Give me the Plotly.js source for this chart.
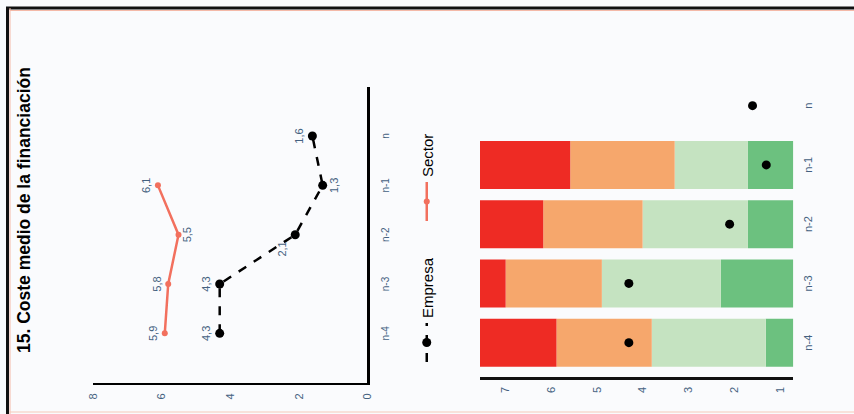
<!DOCTYPE html>
<html><head><meta charset="utf-8">
<script src="https://cdn.plot.ly/plotly-3.0.1.min.js"></script>
<style>
html,body{margin:0;padding:0;width:854px;height:414px;overflow:hidden;background:#fafbfd;}
#wrap{position:absolute;left:0;top:0;width:414px;height:854px;transform-origin:0 0;transform:translate(0px,414px) rotate(-90deg);}
</style></head><body><div id="wrap"></div>
<script>
// ---- data ----
const categories = ['n-4','n-3','n-2','n-1','n'];
const empresa = [4.3, 4.3, 2.1, 1.3, 1.6];
const sector = [5.9, 5.8, 5.5, 6.1, null];
const empresaLabels = ['4,3','4,3','2,1','1,3','1,6'];
const sectorLabels = ['5,9','5,8','5,5','6,1',''];
const lineTicks = [0, 2, 4, 6, 8];
// stacked position bars (sector distribution, scale 1-7)
const barCats = ['n-4','n-3','n-2','n-1'];
const scaleMin = 0.71, scaleMax = 7.55;
const q1 = [1.31, 2.29, 1.70, 1.70];   // dark green / light green limit
const q2 = [3.80, 4.89, 4.00, 3.30];   // light green / orange limit
const q3 = [5.88, 6.99, 6.17, 5.58];   // orange / red limit
const barTicks = [1, 2, 3, 4, 5, 6, 7];

// ---- layout helpers (unrotated frame 414 x 854) ----
const W = 414, H = 854;
const px = u => u / W;
const py = v => 1 - v / H;
const tickColor = '#44617f';
const FONT = 'Liberation Sans, Arial, sans-serif';

const sub = (a, b) => a.map((x, i) => x - b[i]);
const arr = (v) => barCats.map(() => v);

const traces = [
  {type:'scatter', mode:'lines+markers+text', name:'Empresa', x:categories, y:empresa,
   text:empresaLabels, textposition:['top center','top center','top left','bottom center','top center'],
   textfont:{size:11, color:tickColor, family:FONT},
   line:{color:'#000', width:2.5, dash:'dash'}, marker:{color:'#000', size:9},
   xaxis:'x', yaxis:'y', cliponaxis:false},
  {type:'scatter', mode:'lines+markers+text', name:'Sector', x:categories, y:sector,
   text:sectorLabels, textposition:['top center','top center','bottom center','top center','top center'],
   textfont:{size:11, color:tickColor, family:FONT},
   line:{color:'#f2705e', width:2.5}, marker:{color:'#f2705e', size:6},
   xaxis:'x', yaxis:'y', cliponaxis:false},
  {type:'bar', x:barCats, base:arr(scaleMin), y:sub(q1, arr(scaleMin)), marker:{color:'#6cc17f'}, width:0.81, showlegend:false, xaxis:'x2', yaxis:'y2'},
  {type:'bar', x:barCats, base:q1, y:sub(q2, q1), marker:{color:'#c5e3c1'}, width:0.81, showlegend:false, xaxis:'x2', yaxis:'y2'},
  {type:'bar', x:barCats, base:q2, y:sub(q3, q2), marker:{color:'#f6a76c'}, width:0.81, showlegend:false, xaxis:'x2', yaxis:'y2'},
  {type:'bar', x:barCats, base:q3, y:sub(arr(scaleMax), q3), marker:{color:'#ee2b24'}, width:0.81, showlegend:false, xaxis:'x2', yaxis:'y2'},
  {type:'scatter', mode:'markers', x:categories, y:empresa, marker:{color:'#000', size:9}, showlegend:false, xaxis:'x2', yaxis:'y2', cliponaxis:false}
];

const frameShapes = [
  {type:'line', xref:'paper', yref:'paper', x0:0, x1:px(406), y0:py(7.5), y1:py(7.5), line:{color:'#111', width:3}},
  {type:'line', xref:'paper', yref:'paper', x0:px(406), x1:px(406), y0:py(6), y1:0, line:{color:'#111', width:3}},
  {type:'line', xref:'paper', yref:'paper', x0:0, x1:px(406), y0:py(10), y1:py(10), line:{color:'#f4b9a8', width:1}},
  {type:'line', xref:'paper', yref:'paper', x0:px(403.5), x1:px(403.5), y0:py(10), y1:0, line:{color:'#f4b9a8', width:1}},
  {type:'line', xref:'paper', yref:'paper', x0:px(2), x1:px(2), y0:py(10), y1:0, line:{color:'#f6c9b9', width:1}}
];

const layout = {
  width:W, height:H, margin:{l:0, r:0, t:0, b:0},
  paper_bgcolor:'#fafbfd', plot_bgcolor:'#fafbfd',
  font:{family:FONT, color:'#000'},
  title:{text:'15. Coste medio de la financiación', xref:'paper', yref:'paper', x:px(61), xanchor:'left', y:py(24), yanchor:'middle',
         font:{size:17.5, weight:'bold', family:FONT, color:'#000'}},
  showlegend:true,
  legend:{orientation:'h', x:px(47), xanchor:'left', y:py(427), yanchor:'middle', font:{size:15, color:'#000'},
          bgcolor:'rgba(0,0,0,0)', itemwidth:39, entrywidth:87, entrywidthmode:'pixels'},
  barmode:'overlay',
  xaxis:{domain:[px(31.3), px(327.3)], type:'category', categoryorder:'array', categoryarray:categories, range:[-1,5],
         showline:true, linecolor:'#000', linewidth:2.5, showgrid:false, zeroline:false,
         ticks:'outside', ticklen:7, tickcolor:'rgba(0,0,0,0)', tickfont:{size:10, color:tickColor}, anchor:'y'},
  yaxis:{domain:[py(367.3), py(92.7)], range:[0,8], tickvals:lineTicks,
         showline:true, linecolor:'#000', linewidth:2.5, showgrid:false, zeroline:false,
         ticks:'outside', ticklen:6, tickcolor:'rgba(0,0,0,0)', tickfont:{size:11, color:tickColor}, anchor:'x'},
  xaxis2:{domain:[px(37.3), px(343.9)], type:'category', categoryorder:'array', categoryarray:categories, range:[-0.574,4.6],
          showline:false, showgrid:false, zeroline:false,
          ticks:'outside', ticklen:4, tickcolor:'rgba(0,0,0,0)', tickfont:{size:11, color:tickColor}, anchor:'y2'},
  yaxis2:{domain:[py(793.3), py(480)], range:[scaleMin, scaleMax], tickvals:barTicks,
          showline:true, linecolor:'#111', linewidth:3, showgrid:false, zeroline:false,
          ticks:'outside', ticklen:5, tickcolor:'rgba(0,0,0,0)', tickfont:{size:11, color:tickColor}, anchor:'x2'},
  shapes:frameShapes
};

Plotly.newPlot('wrap', traces, layout, {displayModeBar:false, staticPlot:true});
</script></body></html>
